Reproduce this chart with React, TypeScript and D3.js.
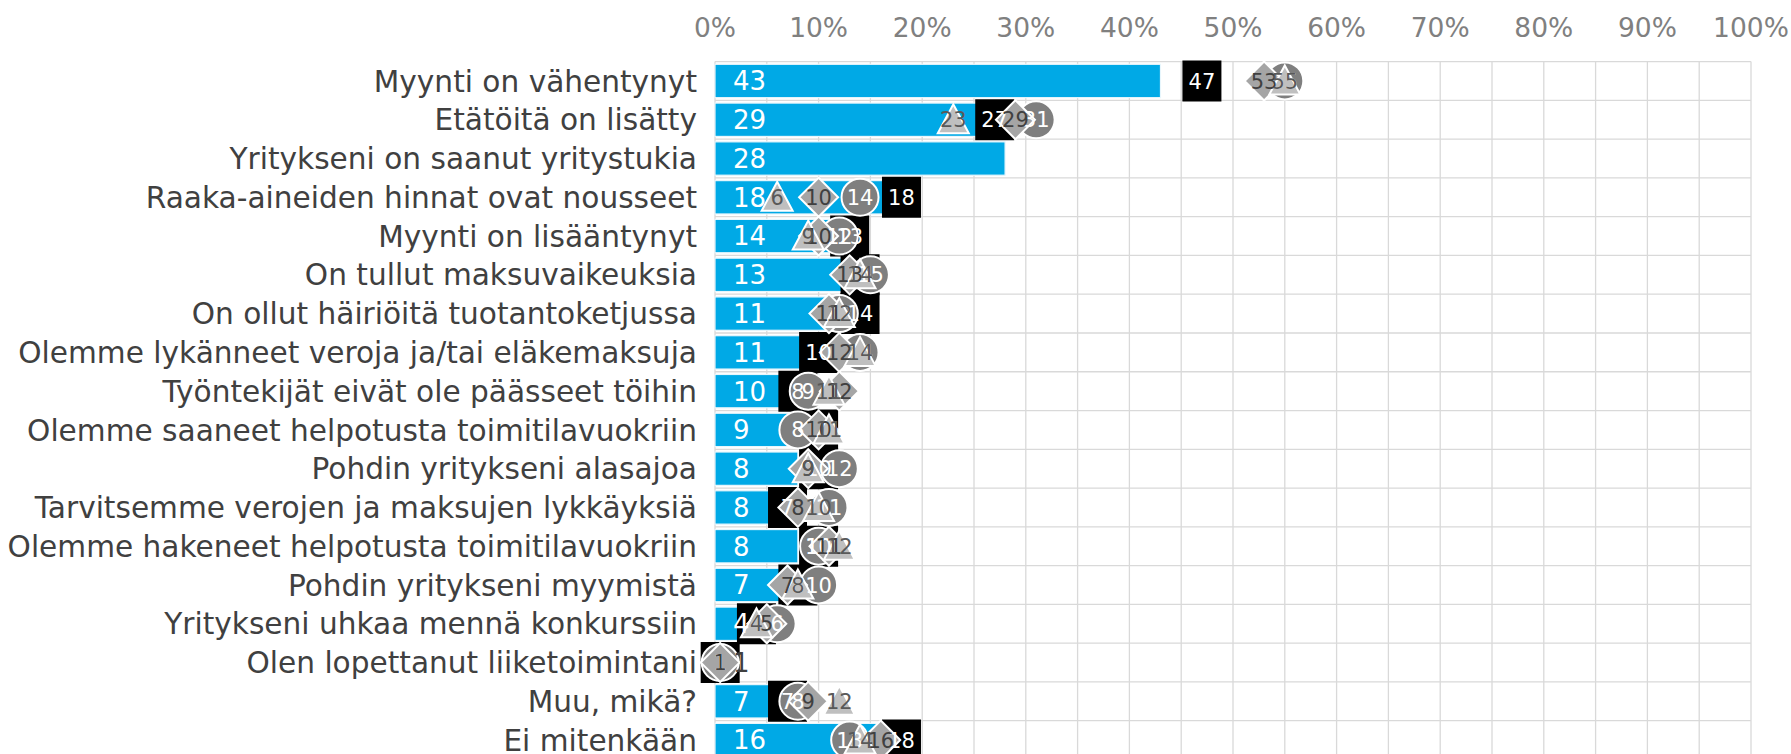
import React, { useEffect, useRef } from 'react';
import * as d3 from 'd3';

const categories = [
  'Myynti on vähentynyt',
  'Etätöitä on lisätty',
  'Yritykseni on saanut yritystukia',
  'Raaka-aineiden hinnat ovat nousseet',
  'Myynti on lisääntynyt',
  'On tullut maksuvaikeuksia',
  'On ollut häiriöitä tuotantoketjussa',
  'Olemme lykänneet veroja ja/tai eläkemaksuja',
  'Työntekijät eivät ole päässeet töihin',
  'Olemme saaneet helpotusta toimitilavuokriin',
  'Pohdin yritykseni alasajoa',
  'Tarvitsemme verojen ja maksujen lykkäyksiä',
  'Olemme hakeneet helpotusta toimitilavuokriin',
  'Pohdin yritykseni myymistä',
  'Yritykseni uhkaa mennä konkurssiin',
  'Olen lopettanut liiketoimintani',
  'Muu, mikä?',
  'Ei mitenkään',
];

// blue bars
const barValues = [43, 29, 28, 18, 14, 13, 11, 11, 10, 9, 8, 8, 8, 7, 4, 1, 7, 16];
// marker series (null = no point)
const squareValues = [47, 27, null, 18, 13, 14, 14, 10, 8, 10, 10, 7, 10, 8, 4, 0.5, 7, 18];
const circleValues = [55, 31, null, 14, 12, 15, 12, 14, 9, 8, 12, 11, 10, 10, 6, 0.5, 8, 13];
const diamondValues = [53, 29, null, 10, 10, 13, 11, 12, 12, 10, 9, 8, 11, 7, 5, 0.5, 9, 16];
const triangleValues = [55, 23, null, 6, 9, 14, 12, 14, 11, 11, 9, 10, 12, 8, 4, null, 12, 14];

const tickValues = [0, 10, 20, 30, 40, 50, 60, 70, 80, 90, 100];

const FONT = '"DejaVu Sans", Verdana, sans-serif';

const Chart = () => {
  const svgRef = useRef<SVGSVGElement>(null);

  useEffect(() => {
    const width = 1791;
    const height = 754;
    const left = 715;
    const right = 1751;
    const top = 61.6;
    const step = 38.77;

    const svg = d3.select(svgRef.current);
    svg.selectAll('*').remove();
    svg.attr('width', width).attr('height', height);

    const x = d3.scaleLinear().domain([0, 100]).range([left, right]);
    const y = d3
      .scaleBand()
      .domain(categories)
      .range([top, top + step * categories.length])
      .paddingInner(0.14)
      .paddingOuter(0.07);
    const cy = (i: number) => (y(categories[i]) as number) + y.bandwidth() / 2;

    // grid
    const grid = svg.append('g');
    grid
      .selectAll('line.v')
      .data(d3.range(0, 101, 5))
      .enter()
      .append('line')
      .attr('x1', (d) => x(d))
      .attr('x2', (d) => x(d))
      .attr('y1', top)
      .attr('y2', height + 20)
      .attr('stroke', '#d9d9d9')
      .attr('stroke-width', 1.3);
    grid
      .selectAll('line.h')
      .data(d3.range(categories.length + 1))
      .enter()
      .append('line')
      .attr('x1', left)
      .attr('x2', right)
      .attr('y1', (d) => top + d * step)
      .attr('y2', (d) => top + d * step)
      .attr('stroke', '#d9d9d9')
      .attr('stroke-width', 1.3);

    // top axis labels
    svg
      .append('g')
      .selectAll('text')
      .data(tickValues)
      .enter()
      .append('text')
      .attr('x', (d) => x(d))
      .attr('y', 37)
      .attr('text-anchor', 'middle')
      .attr('font-family', FONT)
      .attr('font-size', 26.5)
      .attr('fill', '#808080')
      .text((d) => `${d}%`);

    // category labels
    svg
      .append('g')
      .selectAll('text')
      .data(categories)
      .enter()
      .append('text')
      .attr('x', 697)
      .attr('y', (d, i) => cy(i))
      .attr('dy', '0.36em')
      .attr('text-anchor', 'end')
      .attr('font-family', FONT)
      .attr('font-size', 29.6)
      .attr('fill', '#404040')
      .text((d) => d);

    // bars
    svg
      .append('g')
      .selectAll('rect')
      .data(barValues)
      .enter()
      .append('rect')
      .attr('x', x(0))
      .attr('y', (d, i) => y(categories[i]) as number)
      .attr('width', (d) => x(d) - x(0))
      .attr('height', y.bandwidth())
      .attr('fill', '#00a9e6')
      .attr('stroke', '#e8f6fc')
      .attr('stroke-width', 1.2);

    const fmt = (v: number) => String(Math.round(v));

    type Series = {
      values: (number | null)[];
      draw: (g: d3.Selection<SVGGElement, unknown, null, undefined>) => void;
      fill: string;
      stroke: string;
      labelColor: string;
    };

    const squarePath = 'M-19.5,-20.5H19.5V20.5H-19.5Z';
    const diamondPath = d3.line()([[0, -19.5], [19.5, 0], [0, 19.5], [-19.5, 0]]) + 'Z';
    const trianglePath = d3.line()([[0, -15.5], [15.5, 13.5], [-15.5, 13.5]]) + 'Z';

    const series: Series[] = [
      {
        values: squareValues,
        draw: (g) => g.append('path').attr('d', squarePath),
        fill: '#000000',
        stroke: 'none',
        labelColor: '#ffffff',
      },
      {
        values: circleValues,
        draw: (g) => g.append('circle').attr('r', 18.5),
        fill: '#7f7f7f',
        stroke: '#ffffff',
        labelColor: '#ffffff',
      },
      {
        values: diamondValues,
        draw: (g) => g.append('path').attr('d', diamondPath),
        fill: '#a5a5a5',
        stroke: '#ffffff',
        labelColor: '#404040',
      },
      {
        values: triangleValues,
        draw: (g) => g.append('path').attr('d', trianglePath),
        fill: '#bfbfbf',
        stroke: '#ffffff',
        labelColor: '#595959',
      },
    ];

    const markers = svg.append('g');
    series.forEach((s) => {
      s.values.forEach((v, i) => {
        if (v == null) return;
        const g = markers.append('g').attr('transform', `translate(${x(v)},${cy(i)})`);
        s.draw(g);
        g.select(':first-child')
          .attr('fill', s.fill)
          .attr('stroke', s.stroke)
          .attr('stroke-width', 2);
      });
    });

    // labels on top
    const labels = svg.append('g').attr('font-family', FONT);
    barValues.forEach((v, i) => {
      const fits = x(v) - x(0) > 40;
      labels
        .append('text')
        .attr('x', x(0) + 18)
        .attr('y', cy(i))
        .attr('dy', '0.36em')
        .attr('font-size', 26)
        .attr('fill', fits ? '#ffffff' : '#404040')
        .text(fmt(v));
    });
    series.forEach((s) => {
      s.values.forEach((v, i) => {
        if (v == null) return;
        labels
          .append('text')
          .attr('x', x(v))
          .attr('y', cy(i))
          .attr('dy', '0.36em')
          .attr('text-anchor', 'middle')
          .attr('font-size', 21)
          .attr('fill', s.labelColor)
          .text(fmt(v));
      });
    });
  }, []);

  return <svg ref={svgRef} style={{ position: 'absolute', left: 0, top: 0, display: 'block' }}></svg>;
};

export default function App() {
  return <Chart />;
}
